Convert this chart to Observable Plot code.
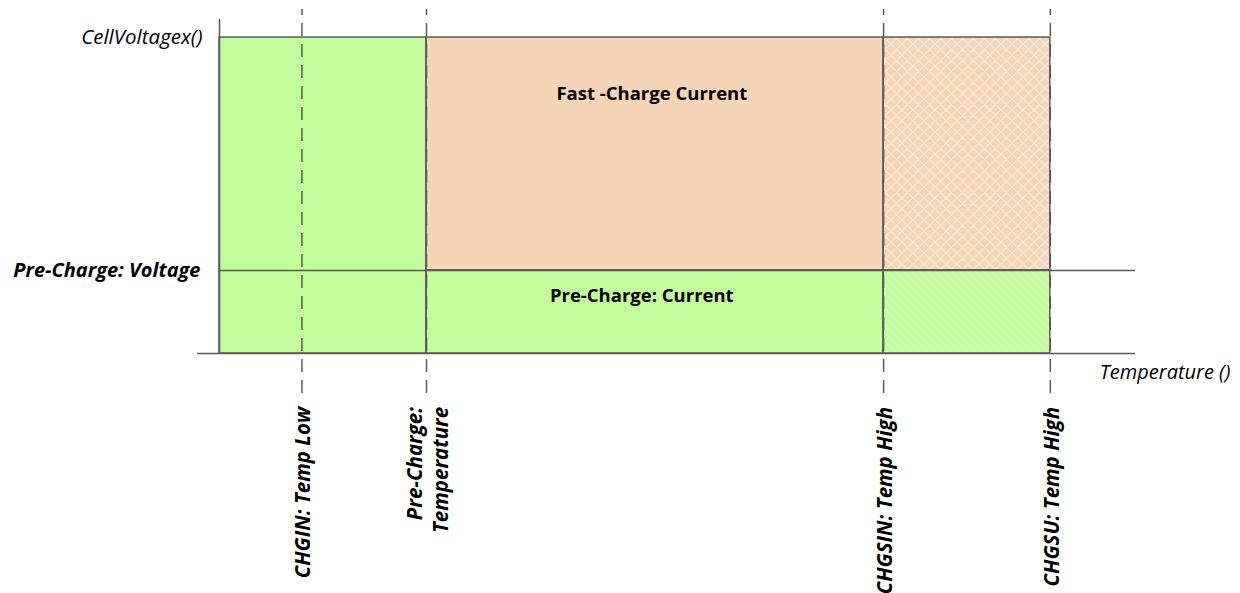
<!DOCTYPE html>
<html>
<head>
<meta charset="utf-8">
<script src="https://cdn.jsdelivr.net/npm/d3@7"></script>
<script src="https://cdn.jsdelivr.net/npm/@observablehq/plot@0.6"></script>
<style>
  html, body { margin: 0; padding: 0; background: #fff; }
  svg { display: block; }
</style>
</head>
<body>
<div id="chart"></div>
<script>
// Temperature thresholds (x) and their labels
const thresholdLabels = ["CHGIN: Temp Low", "Pre-Charge:\nTemperature", "CHGSIN: Temp High", "CHGSU: Temp High"];
const thresholdTemps = [9, 22.6, 72.5, 90.7];

// Voltage levels (y) and their labels
const voltageLabels = ["CellVoltagex()", "Pre-Charge: Voltage"];
const voltageLevels = [94.6, 24.85];

// Region names and label positions
const regionNames = ["Fast -Charge Current", "Pre-Charge: Current"];
const regionLabelX = [47.2, 46.1];
const regionLabelY = [77.8, 17.1];

const xAxisLabel = "Temperature ()";
const xMin = -2.4, xMax = 100, yMax = 100;

const [tLow, tPre, tHigh, tSU] = thresholdTemps;
const [vCell, vPre] = voltageLevels;

// charging regions built from the thresholds
const regions = [
  {x1: 0, x2: tPre, y1: 0, y2: vCell, kind: "pre", hatch: null},
  {x1: tPre, x2: tHigh, y1: vPre, y2: vCell, kind: "fast", hatch: null},
  {x1: tPre, x2: tHigh, y1: 0, y2: vPre, kind: "pre", hatch: null},
  {x1: tHigh, x2: tSU, y1: vPre, y2: vCell, kind: "fast", hatch: "cross"},
  {x1: tHigh, x2: tSU, y1: 0, y2: vPre, kind: "pre", hatch: "diag"}
];

const kindColor = {pre: "#C3FD9B", fast: "#F5D5B8"};
const hatchFill = {cross: "url(#crosshatch)", diag: "url(#diaghatch)"};
const lineColor = "#5a5a5a";
const font = "'Open Sans', Lato, sans-serif";

const thresholds = thresholdTemps.map((t, i) => ({t, label: thresholdLabels[i]}));
const levels = voltageLevels.map((v, i) => ({v, label: voltageLabels[i]}));
const regionText = regionNames.map((n, i) => ({x: regionLabelX[i], y: regionLabelY[i], label: n}));

const plot = Plot.plot({
  width: 1240,
  height: 593,
  marginLeft: 219,
  marginRight: 105,
  marginTop: 19,
  marginBottom: 240,
  x: {domain: [0, xMax], axis: null},
  y: {domain: [0, yMax], axis: null},
  style: {fontFamily: font, background: "#fff"},
  marks: [
    Plot.rect(regions, {x1: "x1", x2: "x2", y1: "y1", y2: "y2", fill: d => kindColor[d.kind]}),
    Plot.rect(regions.filter(d => d.hatch), {x1: "x1", x2: "x2", y1: "y1", y2: "y2", fill: d => hatchFill[d.hatch]}),
    Plot.rect(regions, {x1: "x1", x2: "x2", y1: "y1", y2: "y2", fill: "none", stroke: lineColor, strokeWidth: 1.5}),
    // axes
    Plot.ruleX([0], {y1: 0, y2: yMax, stroke: lineColor, strokeWidth: 1.5}),
    Plot.ruleY([0], {x1: xMin, x2: xMax, stroke: lineColor, strokeWidth: 1.5}),
    Plot.ruleY([vPre], {x1: 0, x2: xMax, stroke: lineColor, strokeWidth: 1.5}),
    // threshold dashed lines
    Plot.ruleX(thresholds, {x: "t", y1: -12, y2: 103, stroke: lineColor, strokeWidth: 1.5, strokeDasharray: "13,8"}),
    // threshold labels
    Plot.text(thresholds, {x: "t", y: -16, text: "label", rotate: -90, textAnchor: "end", lineAnchor: "middle",
      fontSize: 20.5, fontWeight: "bold", fontStyle: "italic", fill: "#000", lineHeight: 1.3}),
    // voltage labels
    Plot.text(levels.slice(0, 1), {x: 0, y: "v", text: "label", textAnchor: "end", dx: -17, fontSize: 20.5,
      fontStyle: "italic", fill: "#000"}),
    Plot.text(levels.slice(1), {x: 0, y: "v", text: "label", textAnchor: "end", dx: -19, fontSize: 20,
      fontWeight: "bold", fontStyle: "italic", fill: "#000"}),
    // region labels
    Plot.text(regionText, {x: "x", y: "y", text: "label", fontSize: 18.5, fontWeight: "bold", fill: "#000"}),
    // x axis label
    Plot.text([xAxisLabel], {x: xMax, y: 0, text: d => d, textAnchor: "end", dx: 95, dy: 19, fontSize: 20, fontStyle: "italic", fill: "#000"})
  ]
});

const defs = d3.select(plot).insert("defs", ":first-child");
const cross = defs.append("pattern").attr("id", "crosshatch").attr("patternUnits", "userSpaceOnUse")
  .attr("width", 11).attr("height", 11);
cross.append("path").attr("d", "M0,0L11,11M11,0L0,11M-5.5,5.5L5.5,-5.5M5.5,16.5L16.5,5.5M-5.5,5.5L5.5,16.5M5.5,-5.5L16.5,5.5")
  .attr("stroke", "#fff").attr("stroke-opacity", 0.5).attr("stroke-width", 1.2).attr("fill", "none");
const diag = defs.append("pattern").attr("id", "diaghatch").attr("patternUnits", "userSpaceOnUse")
  .attr("width", 8).attr("height", 8);
diag.append("path").attr("d", "M0,0L8,8M-4,4L4,12M4,-4L12,4")
  .attr("stroke", "#fff").attr("stroke-opacity", 0.45).attr("stroke-width", 1.2).attr("fill", "none");

document.getElementById("chart").appendChild(plot);
</script>
</body>
</html>
